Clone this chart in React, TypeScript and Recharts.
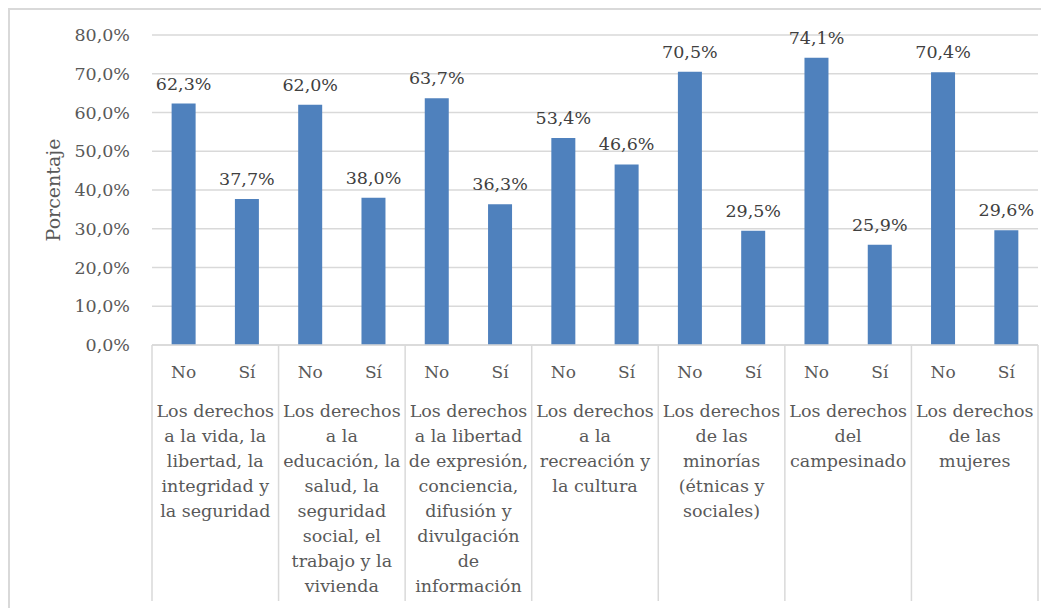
import React from 'react'
import { BarChart, Bar, XAxis, YAxis, CartesianGrid, LabelList } from 'recharts'

const groups = [
  ['Los derechos', 'a la vida, la', 'libertad, la', 'integridad y', 'la seguridad'],
  ['Los derechos', 'a la', 'educación, la', 'salud, la', 'seguridad', 'social, el', 'trabajo y la', 'vivienda'],
  ['Los derechos', 'a la libertad', 'de expresión,', 'conciencia,', 'difusión y', 'divulgación', 'de', 'información'],
  ['Los derechos', 'a la', 'recreación y', 'la cultura'],
  ['Los derechos', 'de las', 'minorías', '(étnicas y', 'sociales)'],
  ['Los derechos', 'del', 'campesinado'],
  ['Los derechos', 'de las', 'mujeres'],
]
const answers = ['No', 'Sí']
const noValues = [62.3, 62.0, 63.7, 53.4, 70.5, 74.1, 70.4]
const siValues = [37.7, 38.0, 36.3, 46.6, 29.5, 25.9, 29.6]
const yTicks = [0, 10, 20, 30, 40, 50, 60, 70, 80]

const data = groups.flatMap((g, gi) =>
  answers.map((a, ai) => ({
    key: `${gi}-${a}`,
    answer: a,
    group: gi,
    value: ai === 0 ? noValues[gi] : siValues[gi],
  }))
)

const FONT = '"DejaVu Serif", serif'
const GRID = '#d9d9d9'
const pct = (v: number) => `${v.toFixed(1).replace('.', ',')}%`

function GroupTick(props: any) {
  const { x, y, payload, index } = props
  const row = data[index]
  const half = payload.offset ?? 31.5
  const first = index % 2 === 0
  const last = index === data.length - 1
  return (
    <g>
      <text x={x} y={y + 33} textAnchor="middle" fontFamily={FONT} fontSize={17} fill="#595959">
        {row.answer}
      </text>
      {first && (
        <>
          <line x1={x - half} y1={y} x2={x - half} y2={y + 256} stroke={GRID} strokeWidth={1.5} />
          <text x={x + half} y={y + 72} textAnchor="middle" fontFamily={FONT} fontSize={17.5} fill="#595959">
            {groups[row.group].map((line, i) => (
              <tspan key={i} x={x + half} dy={i === 0 ? 0 : 25}>
                {line}
              </tspan>
            ))}
          </text>
        </>
      )}
      {last && <line x1={x + half} y1={y} x2={x + half} y2={y + 256} stroke={GRID} strokeWidth={1.5} />}
    </g>
  )
}

export default function App() {
  return (
    <div
      style={{
        width: 1041,
        height: 600,
        borderTop: `2px solid ${GRID}`,
        borderLeft: `2px solid ${GRID}`,
        boxSizing: 'border-box',
        background: '#fff',
      }}
    >
      <BarChart
        width={1032}
        height={598}
        data={data}
        margin={{ top: 25, right: 4, left: 0, bottom: 0 }}
        barCategoryGap="31%"
      >
        <CartesianGrid vertical={false} stroke={GRID} strokeWidth={1.5} />
        <XAxis
          dataKey="key"
          interval={0}
          height={263}
          axisLine={{ stroke: GRID, strokeWidth: 1.5 }}
          tickLine={false}
          tickSize={0}
          tickMargin={0}
          tick={<GroupTick />}
        />
        <YAxis
          width={142}
          domain={[0, 80]}
          ticks={yTicks}
          axisLine={false}
          tickLine={false}
          tickMargin={16}
          tickFormatter={pct}
          tick={{ fontFamily: FONT, fontSize: 17.5, fill: '#595959' }}
          label={{
            value: 'Porcentaje',
            angle: -90,
            position: 'insideLeft',
            dx: 38,
            style: { fontFamily: FONT, fontSize: 19, fill: '#595959', textAnchor: 'middle' },
          }}
        />
        <Bar dataKey="value" fill="#4f81bd" isAnimationActive={false}>
          <LabelList
            dataKey="value"
            position="top"
            offset={14}
            formatter={(v: any) => pct(Number(v))}
            style={{ fontFamily: FONT, fontSize: 17.5, fill: '#404040' }}
          />
        </Bar>
      </BarChart>
    </div>
  )
}
